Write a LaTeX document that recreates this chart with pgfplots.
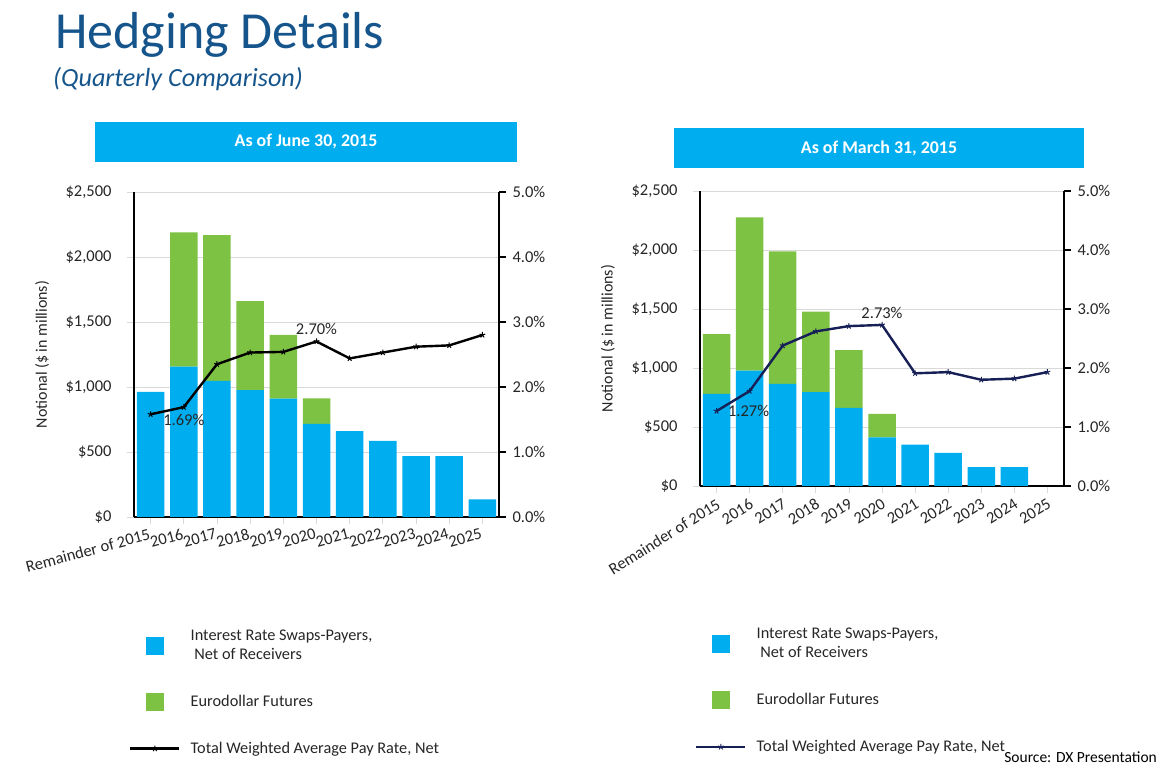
\documentclass[border=0pt]{standalone}
\usepackage{pgfplots}
\pgfplotsset{compat=1.18}
\usepackage{fontspec}
\setmainfont{Carlito}
\definecolor{barblue}{RGB}{0,174,239}
\definecolor{bargreen}{RGB}{125,194,66}
\definecolor{titleblue}{RGB}{22,85,140}
\definecolor{boxblue}{RGB}{0,174,239}
\definecolor{navy}{RGB}{22,32,86}
\definecolor{txt}{RGB}{38,38,38}
\definecolor{gridgray}{RGB}{217,217,217}

\pgfplotsset{
  base/.style={scale only axis, xmin=-0.5, xmax=10.5,
    /pgf/number format/assume math mode=true,
    tick label style={font=\fontsize{16.5}{19}\selectfont, text=txt}},
  barax/.style={base, ymin=0, ymax=2500, ybar stacked, bar width=27.5pt,
    axis x line*=bottom, axis y line*=left,
    axis line style={black, line width=1.6pt},
    xtick={0,...,10},
    xticklabels={Remainder of 2015,2016,2017,2018,2019,2020,2021,2022,2023,2024,2025},
    ytick={0,500,1000,1500,2000,2500},
    yticklabel={\$\pgfmathprintnumber[assume math mode=true,1000 sep={,}]{\tick}},
    yticklabel style={xshift=-12pt},
    ymajorgrids, grid style={gridgray, line width=0.8pt},
    tick align=outside, major tick length=7pt,
    tick style={gridgray, line width=0.8pt},
    ylabel={Notional (\$ in millions)},
    ylabel style={at={(axis description cs:-0.252,0.5)}, anchor=center,
      font=\fontsize{16}{19}\selectfont, text=txt}},
  lineax/.style={base, ymin=0, ymax=5, axis y line*=right, axis x line=none,
    axis line style={black, line width=1.6pt},
    ytick={0,1,2,3,4,5}, xtick=\empty,
    yticklabel={\pgfmathprintnumber[assume math mode=true,fixed,fixed zerofill,precision=1]{\tick}\%},
    yticklabel style={xshift=3pt},
    tick align=outside, major tick length=7pt,
    tick style={black, line width=1.2pt}},
  legax/.style={hide axis, scale only axis, xmin=0, xmax=1, ymin=0, ymax=1,
    legend style={draw=none, fill=none, inner sep=0pt, row sep=30pt, column sep=8pt,
      font=\fontsize{16.3}{19}\selectfont, text=txt, nodes={align=left}},
    legend cell align=left},
}

\pgfplotstableread{
x blue green rate
0 963 0 1.58
1 1156 1033 1.69
2 1048 1120 2.35
3 976 684 2.53
4 910 490 2.54
5 717 195 2.70
6 660 0 2.44
7 586 0 2.53
8 468 0 2.62
9 468 0 2.64
10 136 0 2.80
}\juneData

\pgfplotstableread{
x blue green rate
0 781 507 1.27
1 977 1299 1.61
2 866 1122 2.38
3 796 682 2.62
4 663 489 2.71
5 413 199 2.73
6 351 0 1.91
7 280 0 1.93
8 159 0 1.80
9 159 0 1.82
10 0 0 1.93
}\marchData

\begin{document}
\begin{tikzpicture}[x=1pt,y=1pt]
\path[use as bounding box] (0,0) rectangle (1166,768);

% titles
\node[anchor=base west, inner sep=0pt, text=titleblue, font=\fontsize{52}{62}\selectfont] at (55,719.5) {Hedging Details};
\node[anchor=base west, inner sep=0pt, text=titleblue, font=\fontsize{26.2}{31}\selectfont\itshape] at (53,681) {(Quarterly Comparison)};

% header boxes
\fill[boxblue] (95,606) rectangle (517,646);
\node[text=white, font=\fontsize{17.9}{20}\selectfont\bfseries] at (306,626) {As of June 30, 2015};
\fill[boxblue] (674,600) rectangle (1084,640);
\node[text=white, font=\fontsize{17.9}{20}\selectfont\bfseries] at (879,620) {As of March 31, 2015};

% ---------------- Left chart ----------------
\begin{axis}[barax, at={(134pt,251pt)}, anchor=south west, width=365pt, height=325pt,
  xticklabel style={rotate=15, anchor=north east}]
\addplot[fill=barblue, draw=none] table[x=x, y=blue] {\juneData};
\addplot[fill=bargreen, draw=none] table[x=x, y=green] {\juneData};
\end{axis}
\begin{axis}[lineax, at={(134pt,251pt)}, anchor=south west, width=365pt, height=325pt]
\addplot[black, line width=2.4pt, mark=star, mark size=3pt, mark options={line width=1pt}] table[x=x, y=rate] {\juneData};
\node[below=4pt, font=\fontsize{16.5}{19}\selectfont, text=txt] at (axis cs:1,1.69) {1.69\%};
\node[above=3pt, font=\fontsize{16.5}{19}\selectfont, text=txt] at (axis cs:5,2.70) {2.70\%};
\end{axis}
\begin{axis}[legax, at={(134pt,251pt)}, anchor=south west, width=365pt, height=325pt,
  legend style={at={(-0.014,-0.340)}, anchor=north west}]
\addlegendimage{legend image code/.code={\fill[barblue] (-8.5pt,-8.5pt) rectangle (8.5pt,8.5pt);}}
\addlegendentry{Interest Rate Swaps-Payers,\\\ Net of Receivers}
\addlegendimage{legend image code/.code={\fill[bargreen] (-8.5pt,-8.5pt) rectangle (8.5pt,8.5pt);}}
\addlegendentry{Eurodollar Futures}
\addlegendimage{legend image code/.code={\draw[black, line width=2.6pt] (-24.5pt,0pt) -- (24.5pt,0pt);
   \begin{scope}[black, line width=1pt]\pgfsetplotmarksize{3pt}\pgfuseplotmark{star}\end{scope}}}
\addlegendentry{Total Weighted Average Pay Rate, Net}
\end{axis}

% ---------------- Right chart ----------------
\begin{axis}[barax, at={(700pt,282pt)}, anchor=south west, width=364pt, height=295pt,
  xticklabel style={rotate=32, anchor=north east},
  ylabel style={at={(axis description cs:-0.253,0.5)}}]
\addplot[fill=barblue, draw=none] table[x=x, y=blue] {\marchData};
\addplot[fill=bargreen, draw=none] table[x=x, y=green] {\marchData};
\end{axis}
\begin{axis}[lineax, at={(700pt,282pt)}, anchor=south west, width=364pt, height=295pt]
\addplot[navy, line width=2.4pt, mark=star, mark size=3pt, mark options={line width=1pt}] table[x=x, y=rate] {\marchData};
\node[right=8pt, font=\fontsize{16.5}{19}\selectfont, text=txt] at (axis cs:0,1.27) {1.27\%};
\node[above=3pt, font=\fontsize{16.5}{19}\selectfont, text=txt] at (axis cs:5,2.73) {2.73\%};
\end{axis}
\begin{axis}[legax, at={(700pt,282pt)}, anchor=south west, width=364pt, height=295pt,
  legend style={at={(-0.014,-0.474)}, anchor=north west}]
\addlegendimage{legend image code/.code={\fill[barblue] (-8.5pt,-8.5pt) rectangle (8.5pt,8.5pt);}}
\addlegendentry{Interest Rate Swaps-Payers,\\\ Net of Receivers}
\addlegendimage{legend image code/.code={\fill[bargreen] (-8.5pt,-8.5pt) rectangle (8.5pt,8.5pt);}}
\addlegendentry{Eurodollar Futures}
\addlegendimage{legend image code/.code={\draw[navy, line width=2.6pt] (-24.5pt,0pt) -- (24.5pt,0pt);
   \begin{scope}[navy, line width=1pt]\pgfsetplotmarksize{3pt}\pgfuseplotmark{star}\end{scope}}}
\addlegendentry{Total Weighted Average Pay Rate, Net}
\end{axis}

\node[anchor=base east, inner sep=0pt, font=\fontsize{15.5}{17}\selectfont] at (1157,6) {Source: DX Presentation};
\end{tikzpicture}
\end{document}
